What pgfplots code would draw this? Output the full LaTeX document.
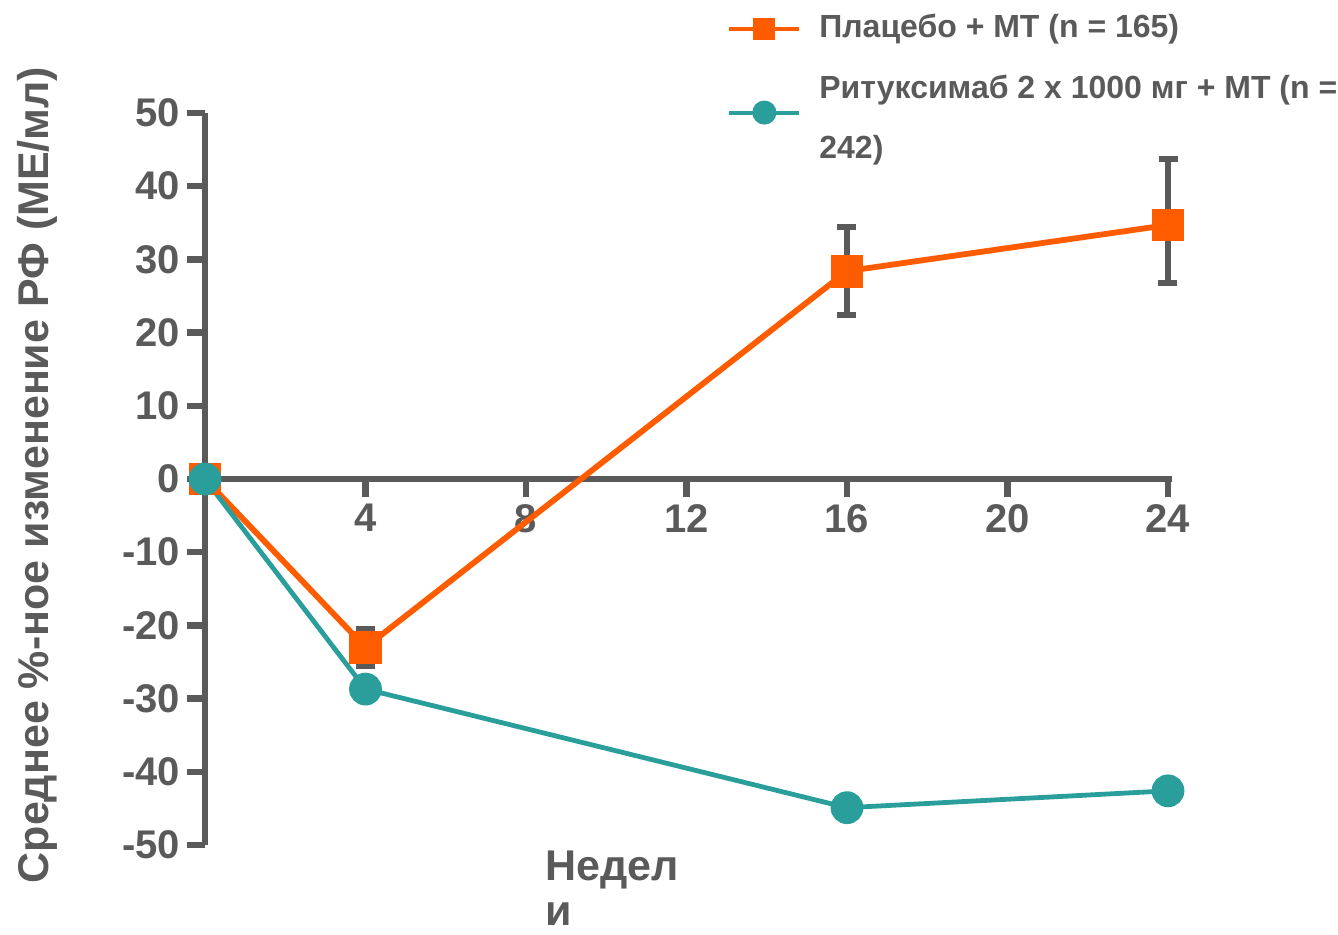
\documentclass[border=0pt]{standalone}
\usepackage{fontspec}
\setmainfont{Liberation Sans}
\usepackage{pgfplots}
\pgfplotsset{compat=1.18}

\definecolor{txtgray}{HTML}{5A5A5A}
\definecolor{placebo}{RGB}{255,92,0}
\definecolor{ritux}{RGB}{42,158,154}

\begin{document}
\begin{tikzpicture}
\begin{axis}[
  at={(0pt,0pt)}, anchor=south west,
  scale only axis,
  width=483.5pt, height=366pt,
  xmin=0, xmax=24.1, ymin=-50, ymax=50,
  axis x line=middle, axis y line=left,
  axis line style={-, line width=3.2pt, color=txtgray},
  xtick={4,8,12,16,20,24},
  ytick={-50,-40,-30,-20,-10,0,10,20,30,40,50},
  yticklabels={-50,-40,-30,-20,-10,0,10,20,30,40,50},
  tick align=outside,
  major tick length=9pt,
  tick style={line width=3.2pt, color=txtgray},
  every tick label/.append style={font=\fontsize{20}{24}\selectfont\bfseries, text=txtgray},
  /pgf/number format/assume math mode=true,
  clip=false,
  xlabel={Недел\\и},
  xlabel style={at={(axis description cs:0.3516,0)}, anchor=north west,
    yshift=-3pt, align=left, inner sep=0pt,
    font=\fontsize{21.5}{22.5}\selectfont\bfseries, text=txtgray},
  ylabel={Среднее \%-ное изменение РФ (МЕ/мл)},
  ylabel style={at={(axis description cs:-0.1737,0.5055)}, anchor=center,
    inner sep=0pt, font=\fontsize{21.5}{24}\selectfont\bfseries, text=txtgray},
  legend cell align=left,
  legend style={at={(axis description cs:0.5398,1.1364)}, anchor=north west,
    draw=none, fill=none, inner sep=0pt, row sep=14.75pt,
    font=\fontsize{16}{19}\selectfont\bfseries, text=txtgray,
    nodes={inner sep=0pt, text height=12pt, text depth=3.5pt},
    /tikz/every odd column/.append style={column sep=9pt}},
  legend image code/.code={
    \draw[#1, mark repeat=2, mark phase=2]
      plot coordinates {(0pt,0pt) (17.5pt,0pt) (35pt,0pt)};},
]

% placebo + MT, with standard error bars
\addplot[forget plot, color=placebo, line width=2.9pt,
  mark=square*, mark size=6.75pt, mark options={solid},
  error bars/.cd, y dir=both, y explicit,
  error bar style={line width=2.8pt, color=txtgray},
  error mark options={rotate=90, line width=2.8pt, color=txtgray, mark size=4.75pt}]
  coordinates {
    (0,0)     +- (0,0)
    (4,-23.0) +- (0,2.6)
    (16,28.4) +- (0,6.0)
    (24,34.7) += (0,9.0) -= (0,7.9)
  };

% rituximab 2 x 1000 mg + MT
\addplot[forget plot, color=ritux, line width=2.4pt,
  mark=*, mark size=7pt, mark options={solid}]
  coordinates {
    (0,0)
    (4,-28.7)
    (16,-44.9)
    (24,-42.6)
  };

\addlegendimage{color=placebo, line width=2pt, mark=square*, mark size=4.5pt}
\addlegendentry{Плацебо + МТ (n = 165)}
\addlegendimage{color=ritux, line width=2pt, mark=*, mark size=5pt, yshift=-11.5pt, overlay}
\addlegendentry{Ритуксимаб 2 x 1000 мг + МТ (n =}
\addlegendimage{empty legend}
\addlegendentry{242)}
\end{axis}
\pgfresetboundingbox
\path[use as bounding box] (-102.5pt,-44.5pt) rectangle (566.5pt,422.5pt);
\end{tikzpicture}
\end{document}
